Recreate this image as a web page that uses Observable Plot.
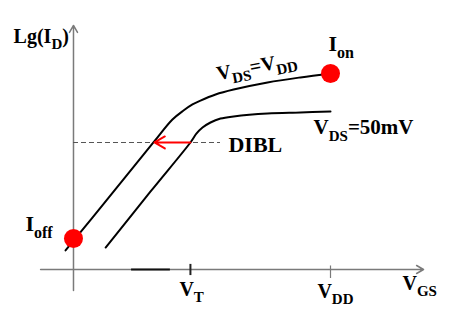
<!DOCTYPE html>
<html><head><meta charset="utf-8">
<script src="https://cdn.jsdelivr.net/npm/d3@7"></script>
<script src="https://cdn.jsdelivr.net/npm/@observablehq/plot@0.6"></script>
<style>
html,body{margin:0;padding:0;background:#fff;}
#chart{width:451px;height:320px;overflow:hidden;}
</style></head><body><div id="chart"></div>
<script>
// V_GS normalised so that V_DD = 1; Lg(I_D) in arbitrary decades (I_on = 10)
const VT = 0.455;
const VDD = 1.0;

// Curve V_DS = V_DD
const vgsHigh = [-0.031, 0.144, 0.311, 0.385, 0.428, 0.463, 0.494, 0.553, 0.623, 0.755, 0.883, 1.0];
const lgHigh  = [0.97, 3.78, 6.48, 7.65, 8.11, 8.42, 8.62, 8.93, 9.18, 9.54, 9.80, 10.0];

// Curve V_DS = 50 mV
const vgsLow = [0.125, 0.300, 0.455, 0.479, 0.502, 0.533, 0.572, 0.623, 0.755, 0.883, 1.0];
const lgLow  = [1.12, 3.98, 6.48, 6.94, 7.24, 7.50, 7.70, 7.81, 7.96, 8.01, 8.06];

// Marked currents
const pointNames = ["I_off", "I_on"];
const pointVgs = [0, VDD];
const pointLg = [1.58, 10.0];

// DIBL construction
const diblLevel = 6.48;
const diblFrom = 0.455;   // V_T at 50 mV
const diblTo = 0.315;     // V_T at V_DD
const diblLineEnd = 0.572;

// Axis extents
const xAxisExtent = [-0.128, 1.362];
const yAxisExtent = [-1.07, 12.45];
const segmentOnAxis = [0.226, 0.377];

// Labels
const labelTexts = ["Lg(I_{D})", "I_{on}", "I_{off}", "V_{DS}=V_{DD}", "V_{DS}=50mV", "DIBL", "V_{T}", "V_{DD}", "V_{GS}"];
const labelX = [-0.233, 0.992, -0.187, 0.562, 0.934, 0.603, 0.412, 0.949, 1.280];
const labelY = [11.58, 11.17, 1.94, 9.66, 6.89, 5.97, -1.33, -1.43, -1.07];
const labelSize = [20, 22, 22, 20, 21, 22, 20, 20, 20];
const labelRotate = [0, 0, 0, -11, 0, 0, 0, 0, 0];

const high = vgsHigh.map((x, i) => ({x, y: lgHigh[i]}));
const low = vgsLow.map((x, i) => ({x, y: lgLow[i]}));
const pts = pointNames.map((n, i) => ({n, x: pointVgs[i], y: pointLg[i]}));
const labels = labelTexts.map((t, i) => ({t, x: labelX[i], y: labelY[i], s: labelSize[i], r: labelRotate[i]}));

const axisColor = "#7a7a7a";

const chart = Plot.plot({
  width: 451,
  height: 320,
  margin: 0,
  style: {background: "#fff", fontFamily: "'Liberation Serif', 'DejaVu Serif', serif"},
  x: {domain: [-0.284, 1.4708], axis: null},
  y: {domain: [-2.602, 13.724], axis: null},
  marks: [
    // axes
    Plot.arrow([0], {x1: xAxisExtent[0], x2: xAxisExtent[1], y1: 0, y2: 0, stroke: axisColor, strokeWidth: 1.5, headLength: 8}),
    Plot.arrow([0], {x1: 0, x2: 0, y1: yAxisExtent[0], y2: yAxisExtent[1], stroke: axisColor, strokeWidth: 1.5, headLength: 8}),
    Plot.ruleX([VT], {y1: 0.26, y2: -0.31, stroke: "#222", strokeWidth: 2}),
    Plot.ruleX([VDD], {y1: 0.18, y2: -0.46, stroke: axisColor, strokeWidth: 1.2}),
    Plot.ruleY([0], {x1: segmentOnAxis[0], x2: segmentOnAxis[1], stroke: "#111", strokeWidth: 2}),
    // DIBL dashed level
    Plot.ruleY([diblLevel], {x1: 0, x2: diblLineEnd, stroke: "#555", strokeWidth: 1.2, strokeDasharray: "5,3"}),
    // curves
    Plot.line(high, {x: "x", y: "y", curve: "catmull-rom", stroke: "#000", strokeWidth: 2}),
    Plot.line(low, {x: "x", y: "y", curve: "catmull-rom", stroke: "#000", strokeWidth: 2}),
    // DIBL arrow
    Plot.arrow([0], {x1: diblFrom, x2: diblTo, y1: diblLevel, y2: diblLevel, stroke: "#ff0000", strokeWidth: 2, headLength: 9}),
    // points
    Plot.dot(pts, {x: "x", y: "y", r: 9.5, fill: "#ff0000", stroke: "none"}),
    // labels
    Plot.text(labels, {x: "x", y: "y", text: "t", fontSize: "s", rotate: "r", textAnchor: "start", lineAnchor: "bottom", fontWeight: "bold", fill: "#000"})
  ]
});

document.getElementById("chart").appendChild(chart);

// Render "_{...}" as real subscripts
const SVGNS = "http://www.w3.org/2000/svg";
chart.querySelectorAll("text").forEach(el => {
  const s = el.textContent;
  if (!s.includes("_{")) return;
  const fs = parseFloat(el.getAttribute("font-size")) || parseFloat(getComputedStyle(el).fontSize) || 20;
  const subFs = Math.round(fs * 0.73);
  const shift = Math.round(fs * 0.32);
  el.textContent = "";
  let down = false;
  s.split(/(_\{[^}]*\})/).filter(p => p).forEach(p => {
    const t = document.createElementNS(SVGNS, "tspan");
    if (p.startsWith("_{")) {
      t.textContent = p.slice(2, -1);
      t.setAttribute("font-size", subFs);
      if (!down) t.setAttribute("dy", shift);
      down = true;
    } else {
      t.textContent = p;
      if (down) t.setAttribute("dy", -shift);
      down = false;
    }
    el.appendChild(t);
  });
});
</script>
</body></html>
